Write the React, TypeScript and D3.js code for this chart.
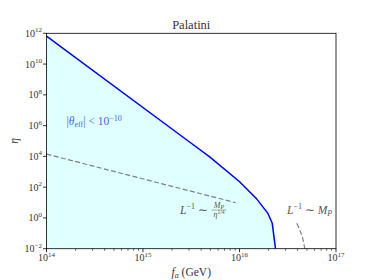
import React from 'react';
import * as d3 from 'd3';

// tick exponents
const xTickExps = [14, 15, 16, 17];
const yTickExps = [-2, 0, 2, 4, 6, 8, 10, 12];

// boundary of |theta_eff| < 1e-10 region (log10 f_a, log10 eta)
const blueLogFa = [14, 15.479, 15.691, 16.001, 16.174, 16.294, 16.339, 16.373];
const blueLogEta = [11.81, 4.95, 3.97, 2.35, 1.27, 0.3, -0.35, -2];

// dashed L^-1 ~ M_P / eta^{1/4}
const dash1LogFa = [14, 15.96];
const dash1LogEta = [4.15, 0.99];

// dashed L^-1 ~ M_P
const dash2LogFa = [16.594, 16.65, 16.676];
const dash2LogEta = [-0.35, -1.22, -2];

const W = 374;
const H = 280;
const L = 46.5, R = 336, T = 33.3, B = 248.7;
const FONT = "'Liberation Serif', 'Times New Roman', serif";

export default function App() {
  const x = d3.scaleLog().domain([1e14, 1e17]).range([L, R]);
  const y = d3.scaleLog().domain([1e-2, 1e12]).range([B, T]);

  const pts = (fa: number[], eta: number[]) => fa.map((f, i) => [f, eta[i]] as [number, number]);
  const line = d3.line<[number, number]>()
    .x(d => x(Math.pow(10, d[0])))
    .y(d => y(Math.pow(10, d[1])));
  const area = d3.area<[number, number]>()
    .x(d => x(Math.pow(10, d[0])))
    .y0(y(1e-2))
    .y1(d => y(Math.pow(10, d[1])));
  const curved = d3.line<[number, number]>()
    .x(d => x(Math.pow(10, d[0])))
    .y(d => y(Math.pow(10, d[1])))
    .curve(d3.curveMonotoneY);

  const blue = pts(blueLogFa, blueLogEta);
  const d1 = pts(dash1LogFa, dash1LogEta);
  const d2 = pts(dash2LogFa, dash2LogEta);

  const minorX: number[] = [];
  for (let e = 14; e < 17; e++) for (let k = 2; k <= 9; k++) minorX.push(k * Math.pow(10, e));

  const fmtExp = (e: number) => (e < 0 ? '\u2212' + Math.abs(e) : String(e));

  return (
    <svg width={W} height={H} style={{ position: 'absolute', left: 0, top: 0, fontFamily: FONT }}>
      <rect x={0} y={0} width={W} height={H} fill="#fff" />
      <path d={area(blue) || ''} fill="#e0ffff" />
      <path d={line(blue) || ''} fill="none" stroke="#0000ff" strokeWidth={1.5} />
      <path d={line(d1) || ''} fill="none" stroke="#808080" strokeWidth={1.2} strokeDasharray="5,2.4" />
      <path d={curved(d2) || ''} fill="none" stroke="#808080" strokeWidth={1.2} strokeDasharray="5,2.4" />

      {/* frame */}
      <rect x={L} y={T} width={R - L} height={B - T} fill="none" stroke="#000" strokeWidth={0.8} />

      {/* x ticks */}
      {minorX.map((v, i) => (
        <line key={'mx' + i} x1={x(v)} x2={x(v)} y1={B} y2={B + 2} stroke="#000" strokeWidth={0.6} />
      ))}
      {xTickExps.map(e => (
        <g key={'x' + e}>
          <line x1={x(Math.pow(10, e))} x2={x(Math.pow(10, e))} y1={B} y2={B + 3.5} stroke="#000" strokeWidth={0.8} />
          <text x={x(Math.pow(10, e))} y={261} textAnchor="middle" fontSize={10} fill="#333">
            <tspan>10</tspan>
            <tspan dy={-4.5} fontSize={7}>{fmtExp(e)}</tspan>
          </text>
        </g>
      ))}

      {/* y ticks */}
      {yTickExps.map(e => (
        <g key={'y' + e}>
          <line x1={L - 3.5} x2={L} y1={y(Math.pow(10, e))} y2={y(Math.pow(10, e))} stroke="#000" strokeWidth={0.8} />
          <text x={L - 4.5} y={y(Math.pow(10, e)) + 3.5} textAnchor="end" fontSize={10} fill="#333">
            <tspan>10</tspan>
            <tspan dy={-4.5} fontSize={7}>{fmtExp(e)}</tspan>
          </text>
        </g>
      ))}

      {/* title and axis labels */}
      <text x={(L + R) / 2} y={29} textAnchor="middle" fontSize={12.5} fill="#333">Palatini</text>
      <text x={(L + R) / 2} y={275.5} textAnchor="middle" fontSize={11.5} fill="#333">
        <tspan fontStyle="italic">f</tspan>
        <tspan dy={2} fontSize={8} fontStyle="italic">a</tspan>
        <tspan dy={-2}> (GeV)</tspan>
      </text>
      <text transform={`translate(18,${(T + B) / 2}) rotate(-90)`} textAnchor="middle" fontSize={11.5} fontStyle="italic" fill="#333">η</text>

      {/* annotations */}
      <text x={66.5} y={125} fontSize={11.5} fill="#4169e1">
        <tspan>|</tspan>
        <tspan fontStyle="italic">θ</tspan>
        <tspan dy={2} fontSize={8}>eff</tspan>
        <tspan dy={-2}>| &lt; 10</tspan>
        <tspan dy={-4.5} fontSize={8}>{'\u221210'}</tspan>
      </text>

      <text x={180} y={213.5} fontSize={11.5} fill="#555">
        <tspan fontStyle="italic">L</tspan>
        <tspan dy={-4.5} fontSize={8}>{'\u22121'}</tspan>
        <tspan dy={4.5}> ∼ </tspan>
      </text>
      <text x={219} y={207.5} textAnchor="middle" fontSize={8} fill="#555">
        <tspan fontStyle="italic">M</tspan>
        <tspan dy={1.5} fontSize={6} fontStyle="italic">P</tspan>
      </text>
      <line x1={211.5} x2={226.5} y1={210} y2={210} stroke="#555" strokeWidth={0.5} />
      <text x={219} y={217} textAnchor="middle" fontSize={8} fill="#555">
        <tspan fontStyle="italic">η</tspan>
        <tspan dy={-3} fontSize={5.5}>1/4</tspan>
      </text>

      <text x={287} y={213.5} fontSize={11.5} fill="#555">
        <tspan fontStyle="italic">L</tspan>
        <tspan dy={-4.5} fontSize={8}>{'\u22121'}</tspan>
        <tspan dy={4.5}> ∼ </tspan>
        <tspan fontStyle="italic">M</tspan>
        <tspan dy={2} fontSize={8} fontStyle="italic">P</tspan>
      </text>
    </svg>
  );
}
